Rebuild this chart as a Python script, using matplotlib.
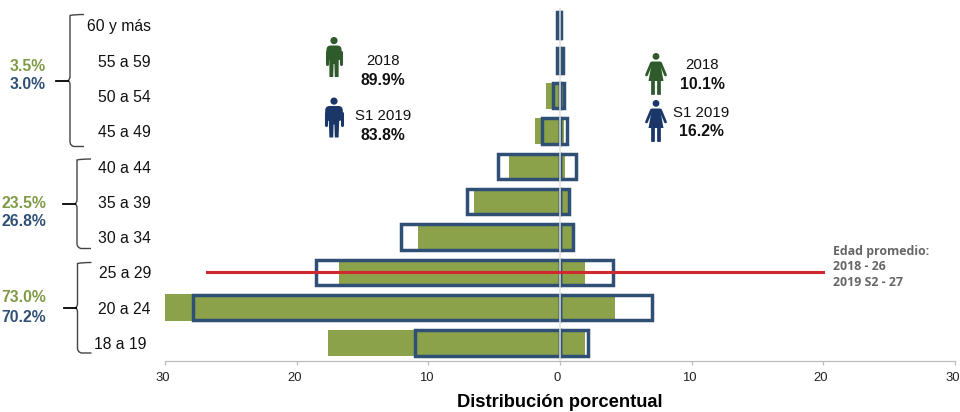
import matplotlib
matplotlib.use("Agg")
import matplotlib.pyplot as plt
import numpy as np
from matplotlib.patches import Circle, FancyBboxPatch, PathPatch, Polygon
from matplotlib.path import Path
from matplotlib.transforms import ScaledTranslation

plt.rcParams["font.family"] = ["Liberation Sans", "DejaVu Sans"]

ages = ["18 a 19", "20 a 24", "25 a 29", "30 a 34", "35 a 39",
        "40 a 44", "45 a 49", "50 a 54", "55 a 59", "60 y más"]
men_2018 = [17.6, 30.0, 16.8, 10.8, 6.5, 3.9, 1.9, 1.1, 0.2, 0.1]
women_2018 = [1.9, 4.2, 1.9, 1.1, 0.8, 0.4, 0.3, 0.2, 0.1, 0.1]
men_2019 = [11.0, 27.9, 18.5, 12.1, 7.1, 4.7, 1.4, 0.5, 0.2, 0.2]
women_2019 = [2.1, 7.0, 4.0, 0.95, 0.65, 1.2, 0.5, 0.3, 0.2, 0.1]
xticks = [-30, -20, -10, 0, 10, 20, 30]
avg_age_line = [-26.8, 20]

GREEN = "#8ba24a"
BLUE = "#2f4f75"
DARK_GREEN = "#2f5a2c"
NAVY = "#1b3768"

W, H = 960, 412
fig = plt.figure(figsize=(W / 100, H / 100), dpi=100)
ax = fig.add_axes([165 / W, 1 - 360.5 / H, 790 / W, 353 / H])
y = np.arange(len(ages))

ax.barh(y, -np.array(men_2018), height=0.74, color=GREEN, zorder=2)
ax.barh(y, women_2018, height=0.74, color=GREEN, zorder=2)
ax.barh(y, -np.array(men_2019), height=0.72, facecolor="none", edgecolor=BLUE, linewidth=2.5, zorder=3)
ax.barh(y, women_2019, height=0.72, facecolor="none", edgecolor=BLUE, linewidth=2.5, zorder=3)
ax.axvline(0, color="#e0e0e0", linewidth=1.1, zorder=4)
ax.plot(avg_age_line, [2, 2], color="#d0282e", linewidth=2.2, zorder=5)

ax.set_xlim(-30, 30)
ax.set_ylim(-0.5, 9.5)
ax.set_xticks(xticks, [str(abs(t)) for t in xticks], fontsize=9.4, color="#222222")
ax.tick_params(axis="x", length=3, width=0.9, color="#bdbdbd", pad=5.5)
# tick labels sit a little left of their ticks in the reference
shift = ScaledTranslation(-2.5 / 100, 0, fig.dpi_scale_trans)
for lab in ax.get_xticklabels():
    lab.set_transform(lab.get_transform() + shift)
ax.set_yticks([])
for s in ["top", "left", "right"]:
    ax.spines[s].set_visible(False)
ax.spines["bottom"].set_color("#bdbdbd")
ax.spines["bottom"].set_linewidth(0.9)
ax.set_xlabel("Distribución porcentual", fontsize=13.2, fontweight="bold", labelpad=7)

# overlay in pixel coordinates for labels, braces and icons
ov = fig.add_axes([0, 0, 1, 1], zorder=10)
ov.set_xlim(0, W)
ov.set_ylim(H, 0)
ov.axis("off")
ov.patch.set_alpha(0)

for i, lab in enumerate(ages):
    yp = 344.5 - i * 35.3
    xr = 147 if lab == "18 a 19" else 151
    ov.text(xr, yp, lab, ha="right", va="center", fontsize=11.3, color="#111111")


def brace(x, top, bot, tick_x):
    mid = (top + bot) / 2
    verts = [(x + 14, top), (x + 4, top), (x, top + 1), (x, top + 5), (x, mid - 4), (x, mid - 1), (x - 2, mid),
             (x, mid + 1), (x, mid + 4), (x, bot - 5), (x, bot - 1), (x + 4, bot), (x + 14, bot)]
    codes = [Path.MOVETO, Path.CURVE3, Path.CURVE3, Path.LINETO, Path.LINETO, Path.CURVE3, Path.CURVE3,
             Path.CURVE3, Path.CURVE3, Path.LINETO, Path.CURVE3, Path.CURVE3, Path.LINETO]
    ov.add_patch(PathPatch(Path(verts, codes), fill=False, edgecolor="#444444", linewidth=1))
    ov.plot([tick_x, x - 2], [mid, mid], color="black", linewidth=1.3)


brace(70, 14.5, 146.5, 56)
brace(77, 159, 248.5, 63)
brace(77.5, 262.5, 353, 64)

groups = [(66, "3.5%", 84, "3.0%"), (203, "23.5%", 221, "26.8%"), (298, "73.0%", 318, "70.2%")]
for y1, t1, y2, t2 in groups:
    ov.text(46, y1, t1, ha="right", va="center", fontsize=11.3, fontweight="bold", color="#7f9a45")
    ov.text(46, y2, t2, ha="right", va="center", fontsize=11.3, fontweight="bold", color=BLUE)

icon_labels = [(383, 61, "2018", 80, "89.9%"), (383, 116, "S1 2019", 135, "83.8%"),
               (702, 65, "2018", 84, "10.1%"), (701, 113, "S1 2019", 131, "16.2%")]
for xp, y1, t1, y2, t2 in icon_labels:
    ov.text(xp, y1, t1, ha="center", va="center", fontsize=10.8, color="#111111")
    ov.text(xp, y2, t2, ha="center", va="center", fontsize=11.3, fontweight="bold", color="#111111")


def man(cx, top, color, wide=1.0):
    ov.add_patch(Circle((cx, top + 3.6), 3.6, color=color, lw=0))
    ov.add_patch(FancyBboxPatch((cx - 8 * wide, top + 8.5), 16 * wide, 15,
                                boxstyle="round,pad=0,rounding_size=4.5", color=color, lw=0))
    ov.add_patch(Polygon([(cx - 5 * wide, top + 14), (cx + 5 * wide, top + 14), (cx + 4.6, top + 40),
                          (cx + 0.8, top + 40), (cx + 0.4, top + 27), (cx - 0.4, top + 27),
                          (cx - 0.8, top + 40), (cx - 4.6, top + 40)], color=color, lw=0))
    ov.plot([cx - 7 * wide, cx - 7 * wide], [top + 15, top + 27], color=color, lw=2.2, solid_capstyle="round")
    ov.plot([cx + 7 * wide, cx + 7 * wide], [top + 15, top + 27], color=color, lw=2.2, solid_capstyle="round")


def woman(cx, top, color):
    ov.add_patch(Circle((cx, top + 3.4), 3.4, color=color, lw=0))
    ov.add_patch(Polygon([(cx - 4, top + 8.5), (cx + 4, top + 8.5), (cx + 7.5, top + 28), (cx - 7.5, top + 28)],
                         color=color, lw=0))
    ov.plot([cx - 4.5, cx - 9.5], [top + 10, top + 22], color=color, lw=2, solid_capstyle="round")
    ov.plot([cx + 4.5, cx + 9.5], [top + 10, top + 22], color=color, lw=2, solid_capstyle="round")
    ov.plot([cx - 2.6, cx - 2.6], [top + 26, top + 40], color=color, lw=2.7)
    ov.plot([cx + 2.6, cx + 2.6], [top + 26, top + 40], color=color, lw=2.7)


man(334, 37, DARK_GREEN, 0.95)
man(334, 97.5, NAVY, 1.1)
woman(656, 53, DARK_GREEN)
woman(656, 100, NAVY)

for yp, t in zip([251, 267, 283], ["Edad promedio:", "2018 - 26", "2019 S2 - 27"]):
    ov.text(833, yp, t, ha="left", va="center", fontsize=8.9, fontweight="bold", color="#666666", family="Open Sans")

fig.savefig("out.png", dpi=100)
